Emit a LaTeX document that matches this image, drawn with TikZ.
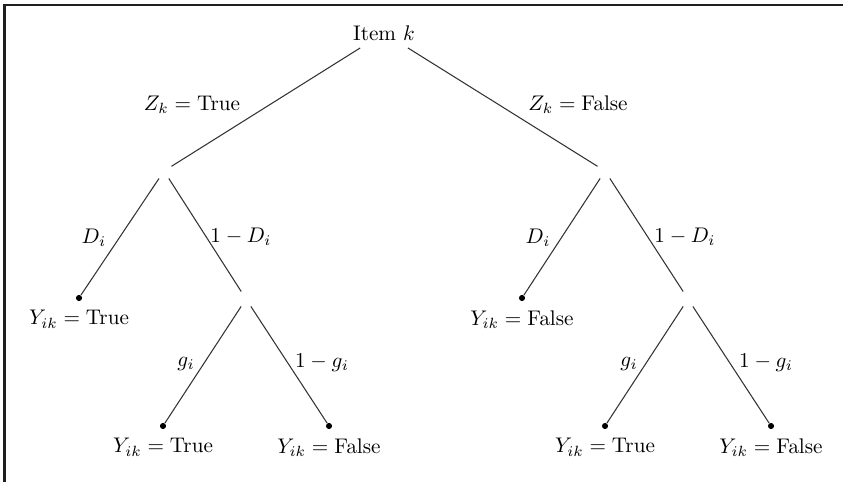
\documentclass[tikz,border=0pt]{standalone}
\usetikzlibrary{positioning}
\begin{document}
\begin{tikzpicture}[x=0.016607cm,y=-0.016607cm,
  inner/.style={inner sep=0.3333em},
  dotnode/.style={circle,fill=black,inner sep=0pt,minimum size=2.9pt},
  leaflab/.style={anchor=north,inner sep=2pt},
  elab/.style={inner sep=1pt},
  branch/.style={draw=black!80,line width=0.5pt},
  frameline/.style={draw=black!88,line width=1.1pt,line join=miter}]
\useasboundingbox (0,0) rectangle (843,482);
\draw[frameline] (4.5,482) -- (4.5,5) -- (843,5);
% nodes
\node[inner] (root) at (384,33) {Item $k$};
\node[inner] (L1) at (164,171) {};
\node[inner] (R1) at (605,171) {};
\node[dotnode] (LD) at (79,298) {};
\node[inner] (L2) at (246,299) {};
\node[dotnode] (RD) at (522,298) {};
\node[inner] (R2) at (688,299) {};
\node[dotnode] (LG) at (163,426) {};
\node[dotnode] (LN) at (329,426) {};
\node[dotnode] (RG) at (605,426) {};
\node[dotnode] (RN) at (771,426) {};
% leaf texts
\node[leaflab] (tLD) at ([yshift=-2pt]LD.south) {$Y_{ik} = \mathrm{True}$};
\node[leaflab] (tRD) at ([yshift=-2pt]RD.south) {$Y_{ik} = \mathrm{False}$};
\node[leaflab] (tLG) at ([yshift=-2pt]LG.south) {$Y_{ik} = \mathrm{True}$};
\node[leaflab] (tLN) at ([yshift=-2pt]LN.south) {$Y_{ik} = \mathrm{False}$};
\node[leaflab] (tRG) at ([yshift=-2pt]RG.south) {$Y_{ik} = \mathrm{True}$};
\node[leaflab] (tRN) at ([yshift=-2pt]RN.south) {$Y_{ik} = \mathrm{False}$};
% edges
\draw[branch] (root) -- (L1);
\draw[branch] (root) -- (R1);
\draw[branch] (L1) -- (LD);
\draw[branch] (L1) -- (L2);
\draw[branch] (R1) -- (RD);
\draw[branch] (R1) -- (R2);
\draw[branch] (L2) -- (LG);
\draw[branch] (L2) -- (LN);
\draw[branch] (R2) -- (RG);
\draw[branch] (R2) -- (RN);
% edge labels
\node[elab] (zt) at (192,105) {$Z_k = \mathrm{True}$};
\node[elab] (zf) at (578,105) {$Z_k = \mathrm{False}$};
\node[elab] (dl) at (94,238) {$D_i$};
\node[elab] (dr) at (538,238) {$D_i$};
\node[elab] (ndl) at (241,237) {$1 - D_i$};
\node[elab] (ndr) at (685,237) {$1 - D_i$};
\node[elab] (gl) at (186,364) {$g_i$};
\node[elab] (gr) at (629,364) {$g_i$};
\node[elab] (ngl) at (322,363) {$1 - g_i$};
\node[elab] (ngr) at (766,363) {$1 - g_i$};
\end{tikzpicture}
\end{document}
